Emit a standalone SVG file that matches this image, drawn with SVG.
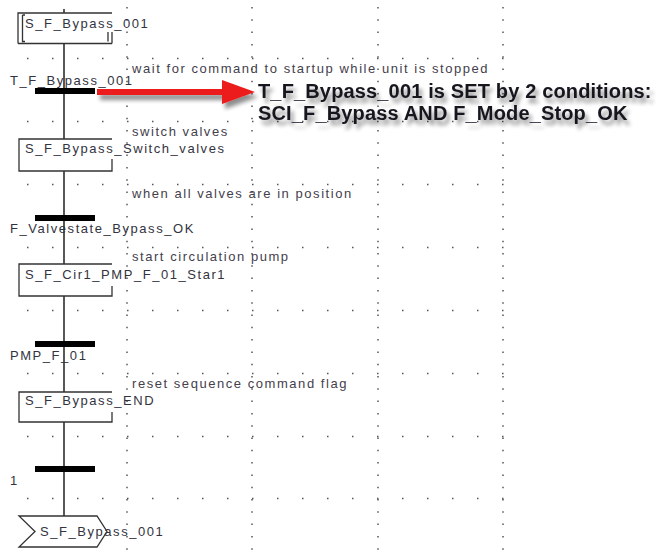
<svg xmlns="http://www.w3.org/2000/svg" width="660" height="554" viewBox="0 0 660 554">
<style>
  .grid-v { stroke: #555; stroke-width: 1.5; stroke-dasharray: 1.5 10.8; fill: none; }
  .grid-h { stroke: #555; stroke-width: 1.5; stroke-dasharray: 1.5 23.5; fill: none; }
  .flow { stroke: #111; stroke-width: 1.4; fill: none; }
  .box { stroke: #333; stroke-width: 1.3; fill: none; }
  .bar { fill: #000; }
  .lbl { font-family: "Liberation Sans", Arial, sans-serif; font-size: 13px; letter-spacing: 1.55px; fill: #333340; }
  .cmt { font-family: "Liberation Sans", Arial, sans-serif; font-size: 13px; letter-spacing: 1.55px; fill: #44404c; }
  .big { font-family: "Liberation Sans", Arial, sans-serif; font-size: 20px; font-weight: bold; letter-spacing: 0.15px; fill: #15151f; }
</style>
<defs>
  <filter id="shadow" x="-10%" y="-30%" width="130%" height="190%">
    <feGaussianBlur in="SourceAlpha" stdDeviation="2.2" result="b"/>
    <feOffset in="b" dx="3" dy="5" result="o"/>
    <feComponentTransfer in="o" result="s"><feFuncA type="linear" slope="0.45"/></feComponentTransfer>
    <feMerge><feMergeNode in="s"/><feMergeNode in="SourceGraphic"/></feMerge>
  </filter>
</defs>
<rect width="660" height="554" fill="#fff"/>

<g id="grid">
  <line class="grid-v" x1="127" y1="7" x2="127" y2="554"/>
  <line class="grid-v" x1="252" y1="7" x2="252" y2="554"/>
  <line class="grid-v" x1="378" y1="7" x2="378" y2="554"/>
  <line class="grid-v" x1="503" y1="7" x2="503" y2="554"/>
  <line class="grid-h" x1="27" y1="58.5" x2="505" y2="58.5"/>
  <line class="grid-h" x1="27" y1="121.5" x2="505" y2="121.5"/>
  <line class="grid-h" x1="27" y1="184.5" x2="505" y2="184.5"/>
  <line class="grid-h" x1="27" y1="247.5" x2="505" y2="247.5"/>
  <line class="grid-h" x1="27" y1="310.5" x2="505" y2="310.5"/>
  <line class="grid-h" x1="27" y1="373.5" x2="505" y2="373.5"/>
  <line class="grid-h" x1="27" y1="436.5" x2="505" y2="436.5"/>
  <line class="grid-h" x1="27" y1="498.5" x2="505" y2="498.5"/>
</g>

<g id="connectors">
  <line class="flow" x1="64" y1="9" x2="64" y2="13"/>
  <line class="flow" x1="64" y1="44" x2="64" y2="139"/>
  <line class="flow" x1="64" y1="171" x2="64" y2="264"/>
  <line class="flow" x1="64" y1="296" x2="64" y2="392"/>
  <line class="flow" x1="64" y1="422" x2="64" y2="516"/>
</g>

<g id="step_S_F_Bypass_001">
  <path class="box" d="M18,43.5 V13 H112 M18,43.5 H112 M22.5,15 V41.5 H25 M22.5,15 H25 M112,32 V43.5 M108,32 V41.5"/>
  <text class="lbl" x="25" y="28">S_F_Bypass_001</text>
</g>

<g id="trans_T_F_Bypass_001">
  <rect class="bar" x="35" y="88" width="60" height="6"/>
  <text class="lbl" x="10" y="85">T_F_Bypass_001</text>
  <text class="cmt" x="132" y="73">wait for command to startup while unit is stopped</text>
</g>

<g id="step_S_F_Bypass_Switch_valves">
  <path class="box" d="M112,139 H19 V171 H112 V159"/>
  <text class="lbl" x="25" y="153">S_F_Bypass_Switch_valves</text>
  <text class="cmt" x="132" y="136">switch valves</text>
</g>

<g id="trans_F_Valvestate_Bypass_OK">
  <rect class="bar" x="35" y="215" width="60" height="6"/>
  <text class="lbl" x="10" y="233">F_Valvestate_Bypass_OK</text>
  <text class="cmt" x="132" y="198">when all valves are in position</text>
</g>

<g id="step_S_F_Cir1_PMP_F_01_Star1">
  <path class="box" d="M112,264 H19 V296 H112 V286"/>
  <text class="lbl" x="25" y="279">S_F_Cir1_PMP_F_01_Star1</text>
  <text class="cmt" x="132" y="261">start circulation pump</text>
</g>

<g id="trans_PMP_F_01">
  <rect class="bar" x="35" y="341" width="60" height="6"/>
  <text class="lbl" x="10" y="360">PMP_F_01</text>
</g>

<g id="step_S_F_Bypass_END">
  <path class="box" d="M112,392 H19 V422 H112 V412"/>
  <text class="lbl" x="25" y="405">S_F_Bypass_END</text>
  <text class="cmt" x="132" y="388">reset sequence command flag</text>
</g>

<g id="trans_1">
  <rect class="bar" x="35" y="466" width="60" height="6"/>
  <text class="lbl" x="10" y="485">1</text>
</g>

<g id="jump_S_F_Bypass_001">
  <path class="box" d="M19,516 H97 L107,531.5 L97,547 H19 L35,531.5 Z"/>
  <text class="lbl" x="40" y="536">S_F_Bypass_001</text>
</g>

<g id="annotation" filter="url(#shadow)">
  <polygon points="97,89 222,89 222,80 255,92 222,104 222,95 97,95" fill="#ec1c1c"/>
  <text class="big" x="258" y="98">T_F_Bypass_001 is SET by 2 conditions:</text>
  <text class="big" x="258" y="120">SCI_F_Bypass AND F_Mode_Stop_OK</text>
</g>
</svg>
